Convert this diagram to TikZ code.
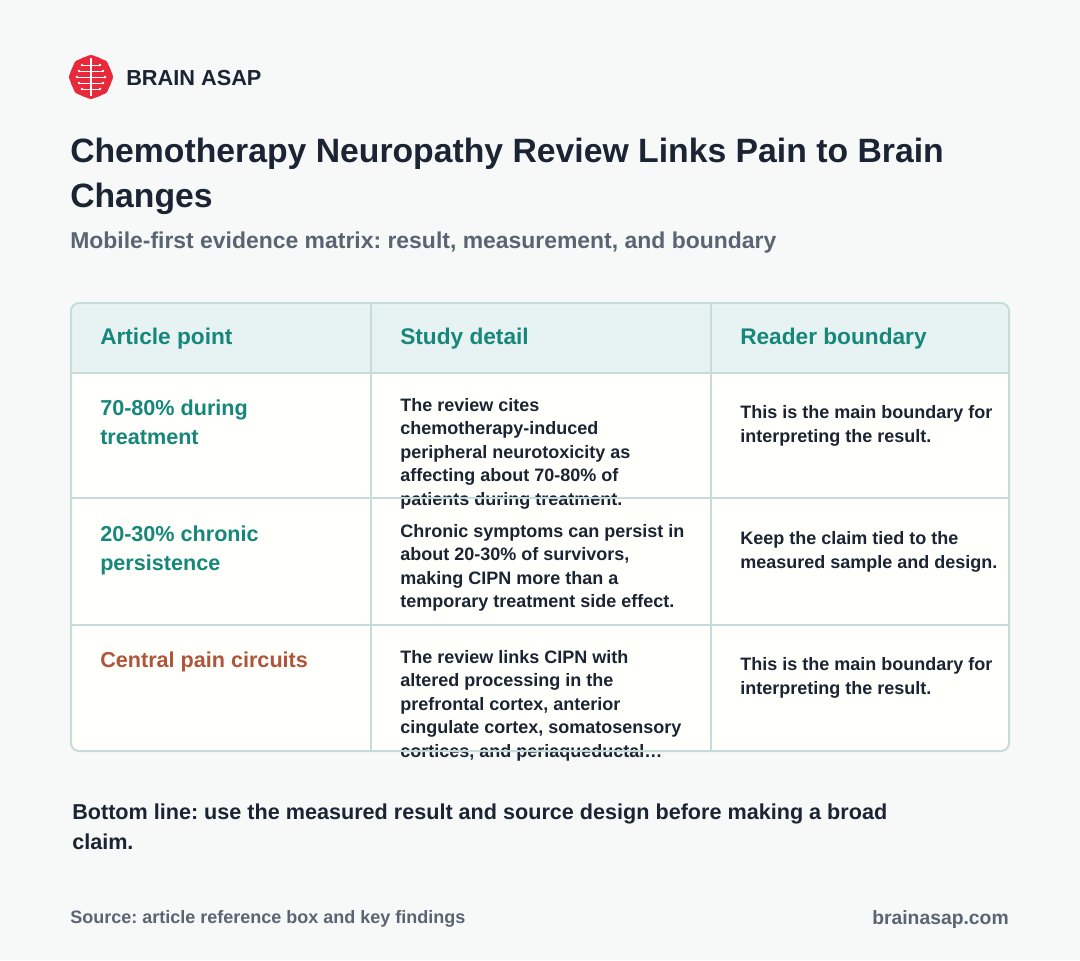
\documentclass[tikz,border=0pt]{standalone}
\usepackage{fontspec}
\setmainfont{Liberation Sans}
\frenchspacing
\definecolor{bg}{HTML}{F7F9F9}
\definecolor{teal}{HTML}{16877A}
\definecolor{rust}{HTML}{B0553A}
\definecolor{ink}{HTML}{1B2433}
\definecolor{gray}{HTML}{5A6472}
\definecolor{hdr}{HTML}{E7F3F2}
\definecolor{brd}{HTML}{C7DCD8}
\definecolor{cell}{HTML}{FFFFFC}
\definecolor{brain}{HTML}{E8293A}
\newcommand{\fs}[1]{\fontsize{#1}{#1}\selectfont\bfseries}
\begin{document}
\begin{tikzpicture}[x=0.75pt,y=-0.75pt,
  t/.style={anchor=base west,inner sep=0pt,text=ink},
  ln/.style={brd,line width=1.5pt}]
\useasboundingbox (0,0) rectangle (1080,960);
\fill[bg] (0,0) rectangle (1080,960);
% logo
\fill[brain] (91,77) ellipse (21 and 21);
\foreach \a in {0,45,...,315} \fill[brain] (91,77) ++(\a:15) circle (7);
\draw[white,line width=1.2pt] (91,58) -- (91,96);
\foreach \yy/\l in {65/9,71/12,77/14,83/12,89/9}{
  \draw[white,line width=0.7pt] (91-\l,\yy) -- (91+\l,\yy);
  \fill[white] (91-\l,\yy) circle (1.3) (91+\l,\yy) circle (1.3);}
\node[t,font=\fs{16.3}] (brand) at (126,85) {BRAIN ASAP};
% title
\node[t,font=\fs{25.3}] (ti1) at (70,162) {Chemotherapy Neuropathy Review Links Pain to Brain};
\node[t,font=\fs{25.3}] (ti2) at (70,207) {Changes};
\node[t,font=\fs{17.2}] (sub) at (70,248) {\color{gray}Mobile-first evidence matrix: result, measurement, and boundary};
% table
\fill[cell,rounded corners=6pt] (71,303) rectangle (1009,751);
\fill[hdr,rounded corners=6pt] (71,303) rectangle (1009,373);
\fill[hdr] (72,340) rectangle (1008,373);
\node[t,font=\fs{17},text=teal] (h1) at (100,344) {Article point};
\node[t,font=\fs{17},text=teal] (h2) at (400,344) {Study detail};
\node[t,font=\fs{17},text=teal] (h3) at (740,344) {Reader boundary};
% col1
\node[t,font=\fs{16.2},text=teal] (a1) at (100,415) {70-80\% during};
\node[t,font=\fs{16.2},text=teal] (a2) at (100,444) {treatment};
\node[t,font=\fs{16.2},text=teal] (b1) at (100,541) {20-30\% chronic};
\node[t,font=\fs{16.2},text=teal] (b2) at (100,570) {persistence};
\node[t,font=\fs{16.2},text=rust] (c1) at (100,667) {Central pain circuits};
% col2
\foreach \s [count=\i from 0] in {The review cites,chemotherapy-induced,peripheral neurotoxicity as,affecting about 70-80\% of,patients during treatment.}
  \node[t,font=\fs{13.5}] at (400,411+23.6*\i) {\s};
\foreach \s [count=\i from 0] in {Chronic symptoms can persist in,{about 20-30\% of survivors,},{making CIPN more than a},temporary treatment side effect.}
  \node[t,font=\fs{13.5}] at (400,537+23.6*\i) {\s};
\foreach \s [count=\i from 0] in {The review links CIPN with,altered processing in the,{prefrontal cortex, anterior},{cingulate cortex, somatosensory},{cortices, and periaqueductal\ldots}}
  \node[t,font=\fs{13.5}] at (400,663+23.6*\i) {\s};
% col3
\node[t,font=\fs{13.5}] at (740,418) {This is the main boundary for};
\node[t,font=\fs{13.5}] at (740,442) {interpreting the result.};
\node[t,font=\fs{13.5}] at (740,544) {Keep the claim tied to the};
\node[t,font=\fs{13.5}] at (740,568) {measured sample and design.};
\node[t,font=\fs{13.5}] at (740,670) {This is the main boundary for};
\node[t,font=\fs{13.5}] at (740,694) {interpreting the result.};
% grid
\draw[ln] (71,373) -- (1009,373) (71,498) -- (1009,498) (71,625) -- (1009,625);
\draw[ln] (371,303) -- (371,751) (711,303) -- (711,751);
\draw[ln,rounded corners=6pt] (71,303) rectangle (1009,751);
% bottom
\node[t,font=\fs{16.2}] (bl1) at (72,819) {Bottom line: use the measured result and source design before making a broad};
\node[t,font=\fs{16.2}] (bl2) at (72,849) {claim.};
\node[t,font=\fs{13.5}] (src) at (70,923) {\color{gray}Source: article reference box and key findings};
\node[anchor=base east,inner sep=0pt,font=\fs{14.5},text=gray] (url) at (1009,924) {brainasap.com};
\end{tikzpicture}
\end{document}
